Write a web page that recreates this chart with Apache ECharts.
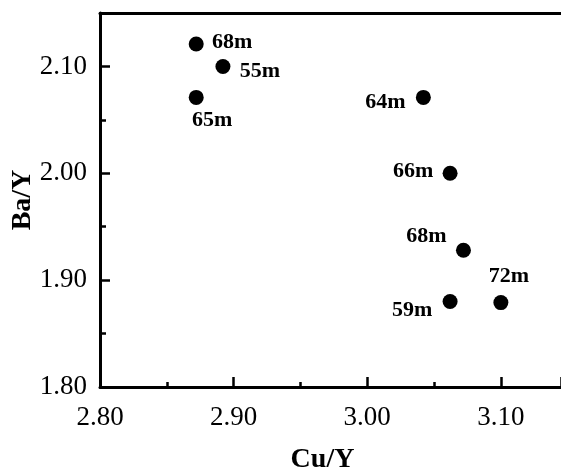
<!DOCTYPE html>
<html>
<head>
<meta charset="utf-8">
<script src="https://cdn.jsdelivr.net/npm/echarts@6/dist/echarts.min.js"></script>
<style>
  html, body { margin: 0; padding: 0; background: #fff; overflow: hidden; }
  #chart { width: 561px; height: 468px; }
</style>
</head>
<body>
<div id="chart"></div>
<script>
// Data
const cuY = [2.872, 2.892, 2.872, 3.042, 3.062, 3.072, 3.062, 3.100];
const baY = [2.121, 2.100, 2.071, 2.071, 2.000, 1.928, 1.880, 1.879];
const depthLabels = ['68m', '55m', '65m', '64m', '66m', '68m', '59m', '72m'];
const xTickLabels = ['2.80', '2.90', '3.00', '3.10'];
const yTickLabels = ['1.80', '1.90', '2.00', '2.10'];

// Label placement (style only): offset of label centre from the marker centre
const labelOffsets = [[36, -2], [37, 5], [16, 23], [-38, 5], [-37, -2], [-37, -14], [-38, 9], [8, -26]];

const FONT = 'Liberation Serif';

const points = cuY.map((x, i) => ({
  value: [x, baY[i]],
  name: depthLabels[i],
  label: { offset: labelOffsets[i] }
}));

const fmt = (v) => {
  const s = v.toFixed(2);
  return (xTickLabels.includes(s) || yTickLabels.includes(s)) ? s : '';
};

const chart = echarts.init(document.getElementById('chart'), null, { renderer: 'canvas' });
chart.setOption({
  animation: false,
  backgroundColor: '#fff',
  grid: { left: 100, top: 13, bottom: 81, right: 0, containLabel: false, outerBoundsMode: 'none' },
  xAxis: [{
    type: 'value',
    min: 2.8, max: 3.145, interval: 0.1,
    name: 'Cu/Y',
    nameLocation: 'middle',
    nameGap: 59,
    nameMoveOverlap: false,
    nameTextStyle: { fontFamily: FONT, fontSize: 28, fontWeight: 'bold', color: '#000', padding: [0, 16, 0, 0] },
    axisLine: { show: true, lineStyle: { color: '#000', width: 3 } },
    axisTick: { show: true, inside: true, length: 10, lineStyle: { color: '#000', width: 2.5 } },
    minorTick: { show: true, splitNumber: 2, length: 5, lineStyle: { color: '#000', width: 2.5 } },
    axisLabel: { show: true, showMaxLabel: false, margin: 17, formatter: fmt, fontFamily: FONT, fontSize: 27, color: '#000' },
    splitLine: { show: false }
  }, {
    type: 'value', position: 'top',
    min: 2.8, max: 3.145,
    axisLine: { show: true, lineStyle: { color: '#000', width: 3 } },
    axisTick: { show: false }, axisLabel: { show: false }, splitLine: { show: false }
  }],
  yAxis: {
    type: 'value',
    min: 1.8, max: 2.15, interval: 0.1,
    name: 'Ba/Y',
    nameLocation: 'middle',
    nameGap: 63,
    nameMoveOverlap: false,
    nameTextStyle: { fontFamily: FONT, fontSize: 28, fontWeight: 'bold', color: '#000' },
    axisLine: { show: true, lineStyle: { color: '#000', width: 3 } },
    axisTick: { show: true, inside: true, length: 10, lineStyle: { color: '#000', width: 2.5 } },
    minorTick: { show: true, splitNumber: 2, length: 6, lineStyle: { color: '#000', width: 2.5 } },
    axisLabel: { show: true, showMaxLabel: false, margin: 13, formatter: fmt, fontFamily: FONT, fontSize: 27, color: '#000' },
    splitLine: { show: false }
  },
  series: [{
    type: 'scatter',
    xAxisIndex: 0,
    symbol: 'circle',
    symbolSize: 15,
    itemStyle: { color: '#000', opacity: 1 },
    label: {
      show: true,
      position: 'inside',
      formatter: (p) => p.name,
      fontFamily: FONT,
      fontSize: 22,
      fontWeight: 'bold',
      color: '#000'
    },
    data: points
  }]
});
</script>
</body>
</html>
